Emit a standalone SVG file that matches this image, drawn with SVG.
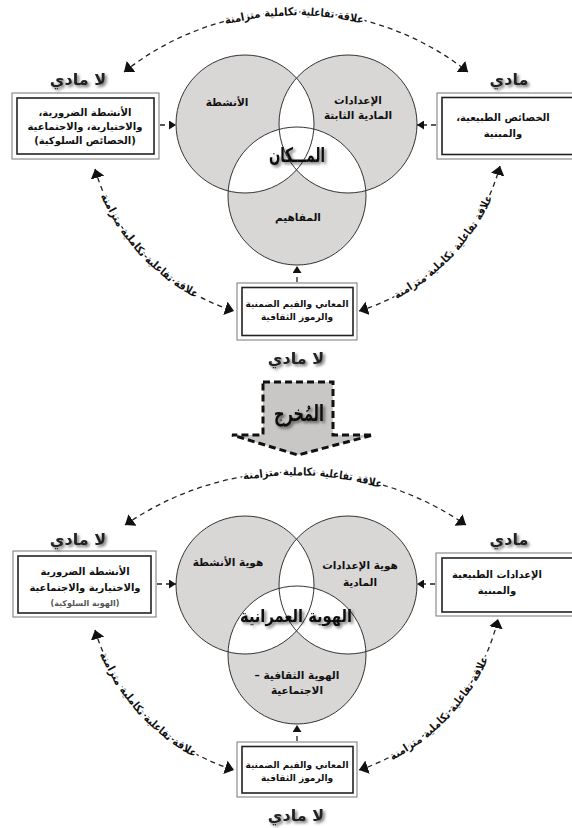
<svg xmlns="http://www.w3.org/2000/svg" width="572" height="828" viewBox="0 0 572 828">
<style>
.ar{font-family:"DejaVu Sans","Noto Sans",sans-serif;font-weight:bold;fill:#111;direction:rtl;text-anchor:middle}
.t10{font-size:10px}
.c10{font-size:10.5px}
.t9{font-size:9px}
.t8{font-size:8px;fill:#555}
.lab{font-size:16px;fill:#222}
.rw{font-family:"DejaVu Sans","Noto Sans",sans-serif;font-weight:bold;font-size:11px;fill:#111;stroke:#fff;stroke-width:4px;stroke-linejoin:round;paint-order:stroke;dominant-baseline:central;text-anchor:middle}
.outer{fill:#fff;stroke:#777;stroke-width:1}
.inner{fill:none;stroke:#222;stroke-width:1.6}
.gray{fill:#d9d6d6}
.white{fill:#fff}
.ring{fill:none;stroke:#333;stroke-width:1}
.dash{fill:none;stroke:#222;stroke-width:1.3;stroke-dasharray:5 4}
.big-arc{marker-start:url(#ahB);marker-end:url(#ahB)}
.sm{marker-end:url(#ahS)}
</style>
<defs>
<filter id="sh" x="-20%" y="-30%" width="140%" height="170%">
<feDropShadow dx="2" dy="2" stdDeviation="1.5" flood-color="#000" flood-opacity="0.55"/>
</filter>
<marker id="ahB" viewBox="0 0 10 10" refX="10" refY="5" markerWidth="9" markerHeight="14" markerUnits="userSpaceOnUse" orient="auto-start-reverse" preserveAspectRatio="none">
<path d="M0,0 L10,5 L0,10 z" fill="#111"/>
</marker>
<marker id="ahS" viewBox="0 0 10 10" refX="10" refY="5" markerWidth="7" markerHeight="9" markerUnits="userSpaceOnUse" orient="auto" preserveAspectRatio="none">
<path d="M0,0 L10,5 L0,10 z" fill="#111"/>
</marker>
<clipPath id="cL1"><circle cx="245" cy="124" r="69"/></clipPath>
<clipPath id="cR1"><circle cx="348" cy="124" r="69"/></clipPath>
<clipPath id="cL2"><circle cx="245" cy="585" r="69"/></clipPath>
<clipPath id="cR2"><circle cx="348" cy="585" r="69"/></clipPath>
</defs>

<!-- ================= TOP SECTION ================= -->
<g id="venn-top">
<circle class="gray" cx="245" cy="124" r="69"/>
<circle class="gray" cx="348" cy="124" r="69"/>
<circle class="gray" cx="297" cy="196" r="69"/>
<circle class="white" cx="348" cy="124" r="69" clip-path="url(#cL1)"/>
<circle class="white" cx="297" cy="196" r="69" clip-path="url(#cL1)"/>
<circle class="white" cx="297" cy="196" r="69" clip-path="url(#cR1)"/>
<g id="c-activities"><circle class="ring" cx="245" cy="124" r="69"/><text class="ar c10" x="227" y="106">الأنشطة</text></g>
<g id="c-physical"><circle class="ring" cx="348" cy="124" r="69"/><text class="ar c10" x="358" y="104">الإعدادات</text><text class="ar c10" x="358" y="119">المادية الثابتة</text></g>
<g id="c-concepts"><circle class="ring" cx="297" cy="196" r="69"/><text class="ar c10" x="298" y="221">المفاهيم</text></g>
<g id="c-place"><text class="ar" style="font-size:20px" x="297" y="162" textLength="56" lengthAdjust="spacingAndGlyphs" filter="url(#sh)">المـــكان</text></g>
</g>

<g id="box-left-1">
<rect class="outer" x="12" y="93" width="147" height="66"/>
<rect class="inner" x="17" y="98" width="137" height="56"/>
<text class="ar t10" x="85" y="116">الأنشطة الضرورية،</text>
<text class="ar t10" x="85" y="130">والاختيارية، والاجتماعية</text>
<text class="ar t10" x="85" y="144">(الخصائص السلوكية)</text>
</g>
<g id="box-right-1">
<rect class="outer" x="437" y="93" width="145" height="66"/>
<rect class="inner" x="442" y="97.5" width="140" height="57"/>
<text class="ar t10" x="503" y="121">الخصائص الطبيعية،</text>
<text class="ar t10" x="503" y="137">والمبنية</text>
</g>
<g id="box-bottom-1">
<rect class="outer" x="237" y="283" width="120" height="57"/>
<rect class="inner" x="242" y="287.5" width="111" height="48"/>
<text class="ar t9" x="297" y="307">المعاني والقيم الضمنية</text>
<text class="ar t9" x="297" y="320">والرموز الثقافية</text>
</g>
<g id="labels-1">
<text class="ar lab" x="78" y="85" filter="url(#sh)">لا مادي</text>
<text class="ar lab" x="509" y="85" filter="url(#sh)">مادي</text>
<text class="ar lab" x="296" y="364" filter="url(#sh)">لا مادي</text>
</g>

<g id="connectors-1">
<path class="dash big-arc" d="M124,72 A276.5,276.5 0 0 1 468,72"/>
<path class="dash big-arc" d="M95,169 A210,210 0 0 0 234,311"/>
<path class="dash big-arc" d="M359,311 A210,210 0 0 0 500,166"/>
<line class="dash sm" x1="160" y1="125" x2="176" y2="125"/>
<line class="dash sm" x1="436" y1="125" x2="417" y2="125"/>
<line class="dash sm" x1="297" y1="282" x2="297" y2="266"/>
<g id="rel-top-1">
<text class="rw" transform="translate(242.5,17.2) rotate(-11.15)" textLength="36" lengthAdjust="spacingAndGlyphs">متزامنة</text>
<text class="rw" transform="translate(280.7,12.4) rotate(-3.17)" textLength="33" lengthAdjust="spacingAndGlyphs">تكاملية</text>
<text class="rw" transform="translate(317.7,12.9) rotate(4.5)" textLength="33" lengthAdjust="spacingAndGlyphs">تفاعلية</text>
<text class="rw" transform="translate(350.8,17.5) rotate(11.44)" textLength="26" lengthAdjust="spacingAndGlyphs">علاقة</text>
</g>
<g id="rel-left-1">
<text class="rw" transform="translate(112.1,210.1) rotate(61.37)" textLength="36" lengthAdjust="spacingAndGlyphs">متزامنة</text>
<text class="rw" transform="translate(133.5,242.0) rotate(50.87)" textLength="33" lengthAdjust="spacingAndGlyphs">تكاملية</text>
<text class="rw" transform="translate(159.3,268.5) rotate(40.77)" textLength="33" lengthAdjust="spacingAndGlyphs">تفاعلية</text>
<text class="rw" transform="translate(186.2,288.3) rotate(31.63)" textLength="26" lengthAdjust="spacingAndGlyphs">علاقة</text>
</g>
<g id="rel-right-1">
<text class="rw" transform="translate(410.0,286.6) rotate(-32.3)" textLength="36" lengthAdjust="spacingAndGlyphs">متزامنة</text>
<text class="rw" transform="translate(440.5,263.2) rotate(-42.81)" textLength="33" lengthAdjust="spacingAndGlyphs">تكاملية</text>
<text class="rw" transform="translate(465.3,235.8) rotate(-52.9)" textLength="33" lengthAdjust="spacingAndGlyphs">تفاعلية</text>
<text class="rw" transform="translate(483.3,207.6) rotate(-62.04)" textLength="26" lengthAdjust="spacingAndGlyphs">علاقة</text>
</g>
</g>

<!-- ================= OUTPUT ARROW ================= -->
<g id="output-arrow">
<polygon points="263,382 333,382 333,435 373,435 298,455 232,435 263,435" fill="#c9c6c6" stroke="#111" stroke-width="3" stroke-dasharray="7 4" stroke-linejoin="miter"/>
<text class="ar" style="font-size:22px" x="299" y="421" textLength="50" lengthAdjust="spacingAndGlyphs" filter="url(#sh)">المُخرج</text>
</g>

<!-- ================= BOTTOM SECTION ================= -->
<g id="venn-bottom">
<circle class="gray" cx="245" cy="585" r="69"/>
<circle class="gray" cx="348" cy="585" r="69"/>
<circle class="gray" cx="297" cy="655" r="69"/>
<circle class="white" cx="348" cy="585" r="69" clip-path="url(#cL2)"/>
<circle class="white" cx="297" cy="655" r="69" clip-path="url(#cL2)"/>
<circle class="white" cx="297" cy="655" r="69" clip-path="url(#cR2)"/>
<g id="c-activities-id"><circle class="ring" cx="245" cy="585" r="69"/><text class="ar c10" x="228" y="566">هوية الأنشطة</text></g>
<g id="c-physical-id"><circle class="ring" cx="348" cy="585" r="69"/><text class="ar c10" x="360" y="569">هوية الإعدادات</text><text class="ar c10" x="360" y="586">المادية</text></g>
<g id="c-cultural-id"><circle class="ring" cx="297" cy="655" r="69"/><text class="ar c10" x="297" y="679">الهوية الثقافية –</text><text class="ar c10" x="297" y="694">الاجتماعية</text></g>
<g id="c-urban-id"><text class="ar" style="font-size:17px" x="296" y="622" textLength="112" lengthAdjust="spacingAndGlyphs" filter="url(#sh)">الهوية العمرانية</text></g>
</g>

<g id="box-left-2">
<rect class="outer" x="13" y="551" width="143" height="66"/>
<rect class="inner" x="18" y="556" width="133" height="57"/>
<text class="ar t10" x="85" y="575">الأنشطة الضرورية</text>
<text class="ar t10" x="85" y="591">والاختيارية والاجتماعية</text>
<text class="ar t8" x="85" y="606">(الهوية السلوكية)</text>
</g>
<g id="box-right-2">
<rect class="outer" x="436" y="553" width="146" height="63"/>
<rect class="inner" x="442" y="558" width="140" height="54"/>
<text class="ar t10" x="497" y="578">الإعدادات الطبيعية</text>
<text class="ar t10" x="497" y="594">والمبنية</text>
</g>
<g id="box-bottom-2">
<rect class="outer" x="237" y="742" width="120" height="55"/>
<rect class="inner" x="242" y="746.5" width="111" height="46.5"/>
<text class="ar t9" x="297" y="768">المعاني والقيم الضمنية</text>
<text class="ar t9" x="297" y="781">والرموز الثقافية</text>
</g>
<g id="labels-2">
<text class="ar lab" x="78" y="545" filter="url(#sh)">لا مادي</text>
<text class="ar lab" x="509" y="545" filter="url(#sh)">مادي</text>
<text class="ar lab" x="296" y="821" filter="url(#sh)">لا مادي</text>
</g>

<g id="connectors-2">
<path class="dash big-arc" d="M125,525 A300.7,300.7 0 0 1 466,525"/>
<path class="dash big-arc" d="M95,630 A210,210 0 0 0 234,770"/>
<path class="dash big-arc" d="M359,770 A210,210 0 0 0 498,619"/>
<line class="dash sm" x1="157" y1="584" x2="176" y2="584"/>
<line class="dash sm" x1="435" y1="584" x2="417" y2="584"/>
<line class="dash sm" x1="297" y1="741" x2="297" y2="725"/>
<g id="rel-top-2">
<text class="rw" transform="translate(261.1,474.0) rotate(-6.57)" textLength="36" lengthAdjust="spacingAndGlyphs">متزامنة</text>
<text class="rw" transform="translate(299.5,472.0) rotate(0.77)" textLength="33" lengthAdjust="spacingAndGlyphs">تكاملية</text>
<text class="rw" transform="translate(336.4,474.8) rotate(7.82)" textLength="33" lengthAdjust="spacingAndGlyphs">تفاعلية</text>
<text class="rw" transform="translate(369.3,481.2) rotate(14.2)" textLength="26" lengthAdjust="spacingAndGlyphs">علاقة</text>
</g>
<g id="rel-left-2">
<text class="rw" transform="translate(111.1,668.7) rotate(61.77)" textLength="36" lengthAdjust="spacingAndGlyphs">متزامنة</text>
<text class="rw" transform="translate(132.3,700.8) rotate(51.27)" textLength="33" lengthAdjust="spacingAndGlyphs">تكاملية</text>
<text class="rw" transform="translate(157.9,727.5) rotate(41.17)" textLength="33" lengthAdjust="spacingAndGlyphs">تفاعلية</text>
<text class="rw" transform="translate(184.7,747.4) rotate(32.03)" textLength="26" lengthAdjust="spacingAndGlyphs">علاقة</text>
</g>
<g id="rel-right-2">
<text class="rw" transform="translate(405.9,748.0) rotate(-32.31)" textLength="36" lengthAdjust="spacingAndGlyphs">متزامنة</text>
<text class="rw" transform="translate(436.4,724.6) rotate(-42.81)" textLength="33" lengthAdjust="spacingAndGlyphs">تكاملية</text>
<text class="rw" transform="translate(461.2,697.2) rotate(-52.91)" textLength="33" lengthAdjust="spacingAndGlyphs">تفاعلية</text>
<text class="rw" transform="translate(479.2,668.9) rotate(-62.05)" textLength="26" lengthAdjust="spacingAndGlyphs">علاقة</text>
</g>
</g>
</svg>
